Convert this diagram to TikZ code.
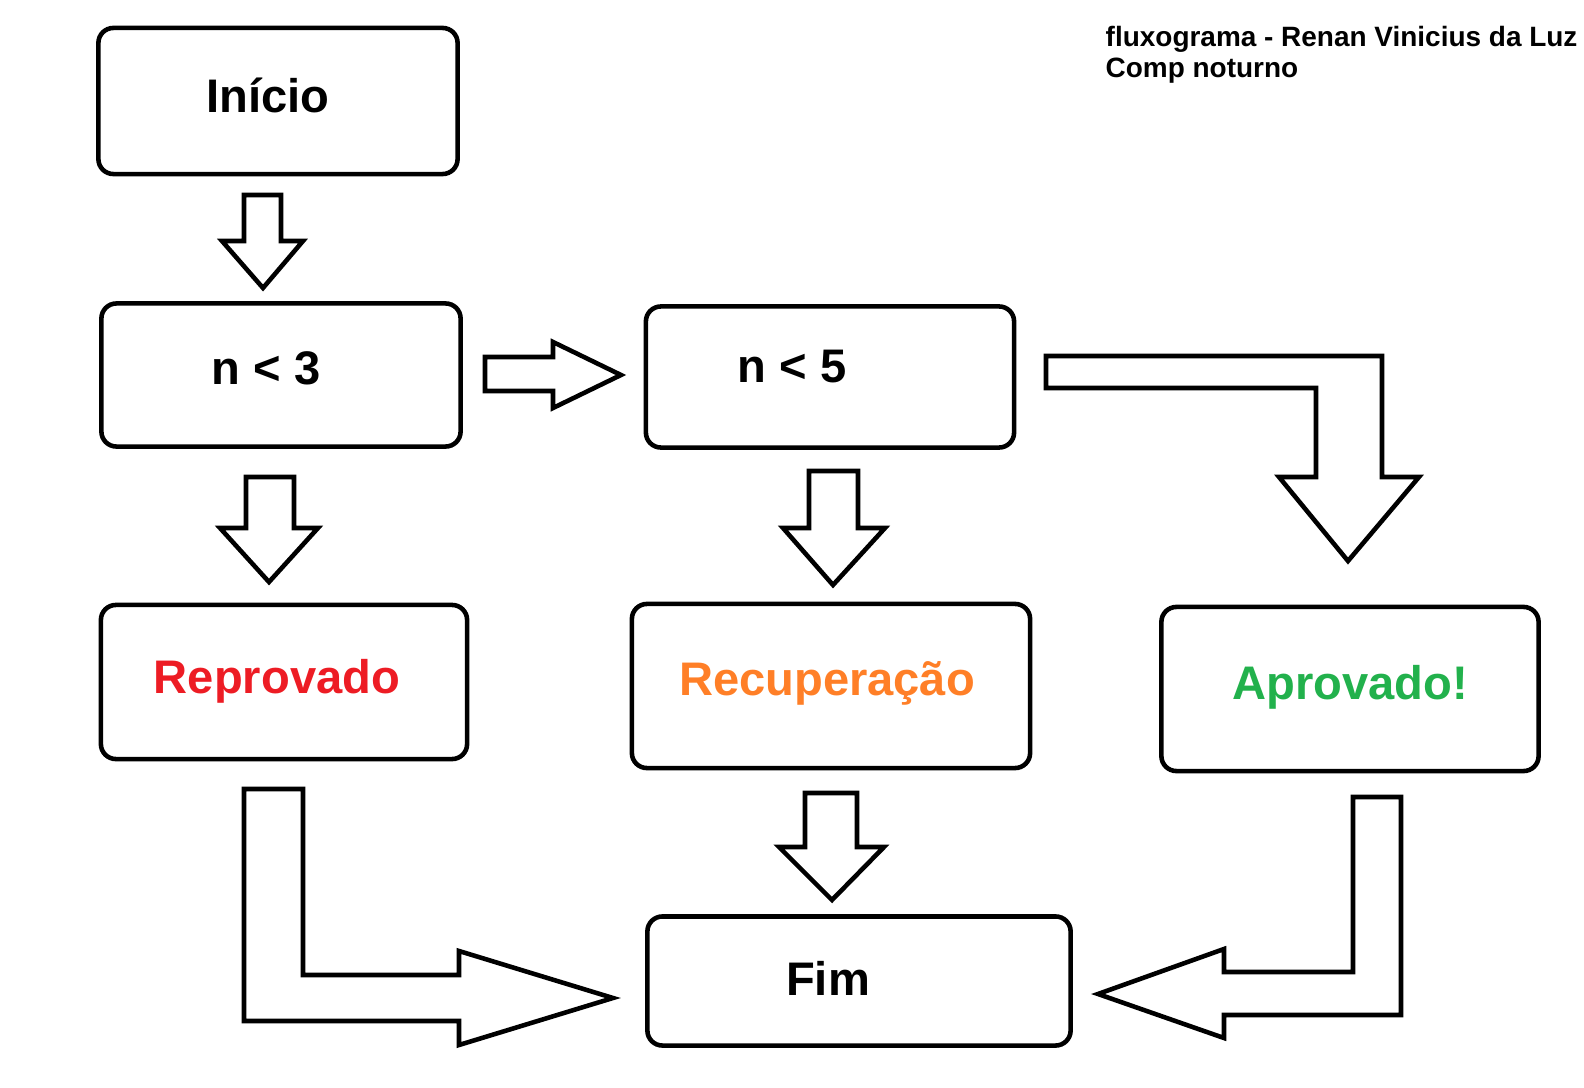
\documentclass[tikz,border=0pt]{standalone}
\usepackage{fontspec}
\setmainfont{Liberation Sans}
\usepackage{tikz}

\definecolor{paintred}{RGB}{237,28,36}
\definecolor{paintorange}{RGB}{255,127,39}
\definecolor{paintgreen}{RGB}{34,177,76}

\tikzset{
    box/.style={draw, line width=1.3pt, rounded corners=0.15cm, inner sep=0pt},
    texto/.style={font=\bfseries\fontsize{13.4}{16}\selectfont, inner sep=0pt, anchor=base},
    titulo/.style={font=\bfseries\fontsize{7.95}{8.4}\selectfont, inner sep=0pt, anchor=base west},
    bloco/.style={draw, line width=1.3pt, fill=white}
}

\begin{document}
\begin{tikzpicture}[x=0.01cm, y=-0.01cm]
            \useasboundingbox (0,0) rectangle (1584,1088);
            \node[box, minimum width=3.59cm, minimum height=1.46cm](inicio) at (278,101)  {};
            \node[box, minimum width=3.59cm, minimum height=1.43cm](n3)     at (281,375)  {};
            \node[box, minimum width=3.68cm, minimum height=1.41cm](n5)     at (830,377)  {};
            \node[box, minimum width=3.66cm, minimum height=1.54cm](repr)   at (284,682)  {};
            \node[box, minimum width=3.98cm, minimum height=1.64cm](recup)  at (831,686)  {};
            \node[box, minimum width=3.77cm, minimum height=1.64cm](aprov)  at (1350,689) {};
            \node[box, minimum width=4.23cm, minimum height=1.29cm](fim)    at (859,981)  {};
            \node[texto](inicioT) at (268,113) {Início};
            \node[texto](n3T)     at (266,385) {n < 3};
            \node[texto](n5T)     at (792,383) {n < 5};
            \node[texto, text=paintred](reprT)     at (277,693)  {Reprovado};
            \node[texto, text=paintorange](recupT) at (827,695)  {Recuperação};
            \node[texto, text=paintgreen](aprovT)  at (1350,699) {Aprovado!};
            \node[texto](fimT)    at (828,995) {Fim};
            \node[titulo](autor) at (1105,47) {fluxograma - Renan Vinicius da Luz};
            \node[titulo](turma) at (1105,78) {Comp noturno};
            \draw[bloco] (244,195) -- (281,195) -- (281,241) -- (303,241) -- (263,288) -- (222,241) -- (244,241) -- cycle;
            \draw[bloco] (246,477) -- (294,477) -- (294,528) -- (318,528) -- (269,582) -- (220,528) -- (246,528) -- cycle;
            \draw[bloco] (485,357) -- (553,357) -- (553,342) -- (621,375) -- (553,408) -- (553,391) -- (485,391) -- cycle;
            \draw[bloco] (809,471) -- (858,471) -- (858,528) -- (885,528) -- (833,585) -- (783,528) -- (809,528) -- cycle;
            \draw[bloco] (1046,356) -- (1382,356) -- (1382,477) -- (1419,477) -- (1348,561)
                -- (1279,477) -- (1316,477) -- (1316,388) -- (1046,388) -- cycle;
            \draw[bloco] (805,793) -- (857,793) -- (857,847) -- (884,847) -- (832,900) -- (779,847) -- (805,847) -- cycle;
            \draw[bloco] (244,789) -- (303,789) -- (303,975) -- (459,975) -- (459,951) -- (613,998)
                -- (459,1045) -- (459,1021) -- (244,1021) -- cycle;
            \draw[bloco] (1353,797) -- (1401,797) -- (1401,1015) -- (1224,1015) -- (1224,1038) -- (1098,994)
                -- (1224,949) -- (1224,972) -- (1353,972) -- cycle;
        \end{tikzpicture}
\end{document}
